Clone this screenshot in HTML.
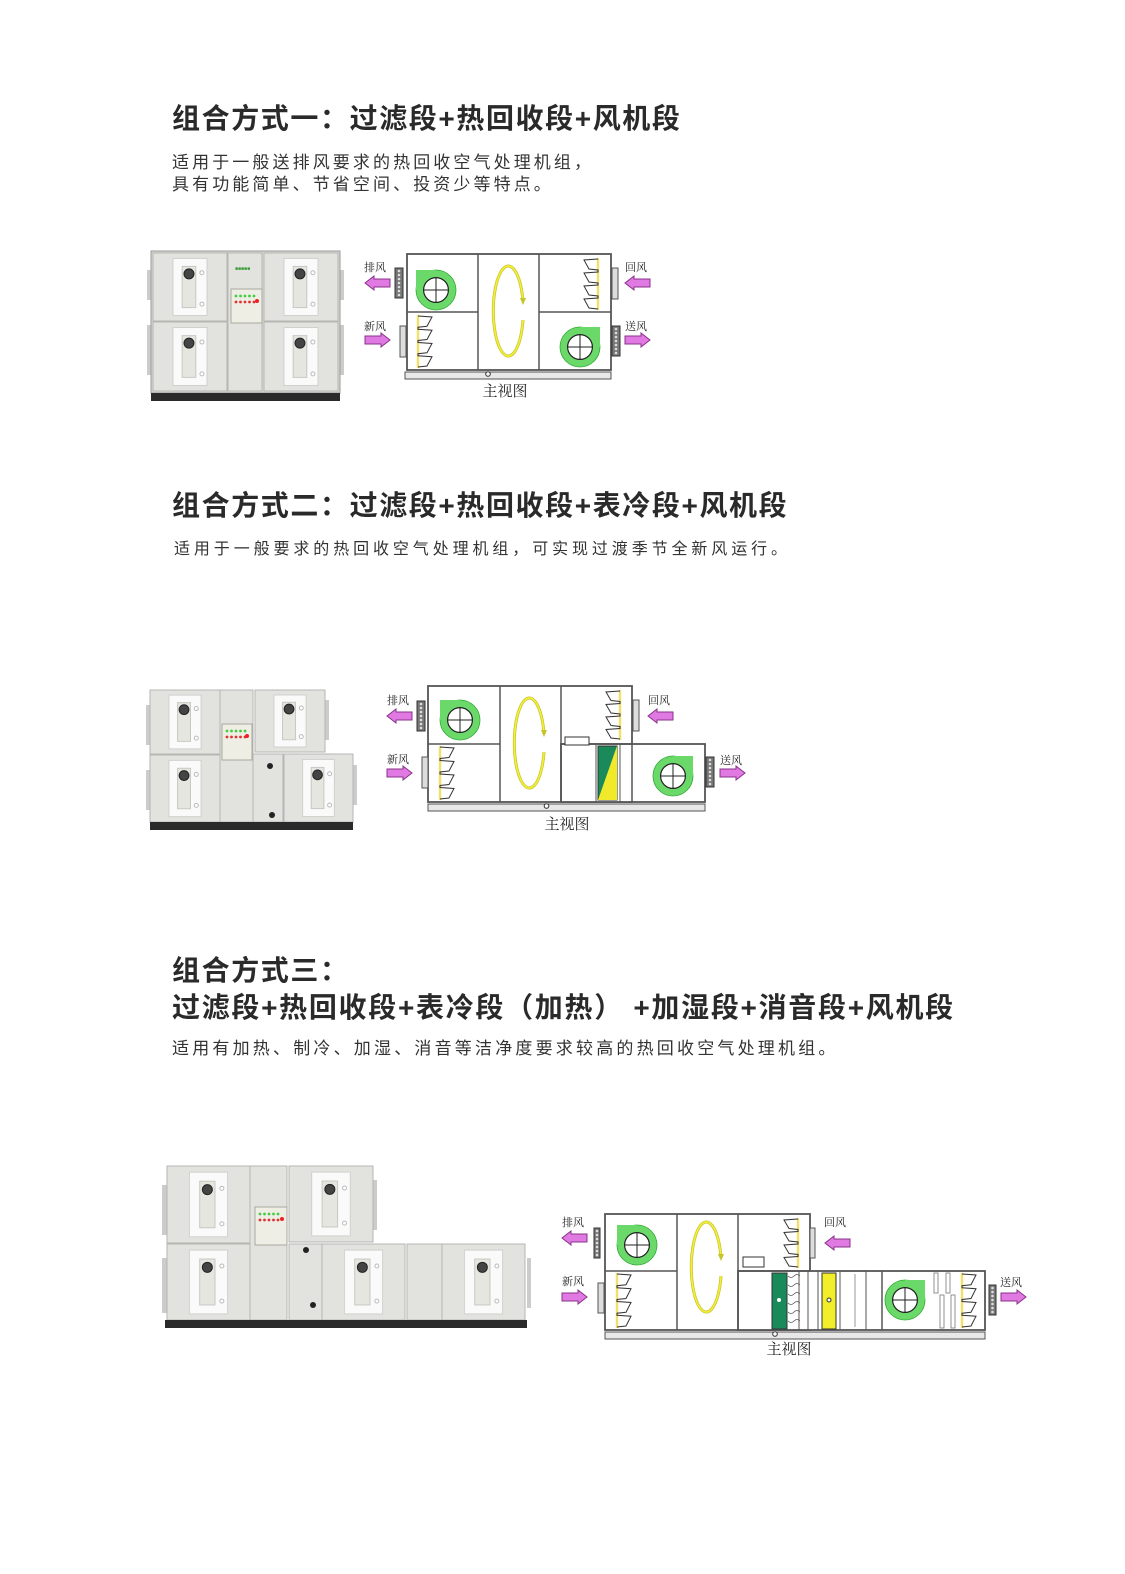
<!DOCTYPE html>
<html><head><meta charset="utf-8">
<style>
html,body{margin:0;padding:0;background:#fff;}
body{width:1125px;height:1574px;position:relative;overflow:hidden;font-family:"Liberation Sans","Noto Sans CJK SC",sans-serif;color:#2e2e2e;}
.t{position:absolute;left:172px;font-size:28px;font-weight:bold;white-space:nowrap;line-height:36px;letter-spacing:1.6px;color:#2a2a2a}
.b{position:absolute;left:172px;font-size:17px;white-space:nowrap;line-height:22px;color:#333}
svg{position:absolute;left:0;top:0}
</style></head><body>
<div class="t" style="top:101px">组合方式一：过滤段+热回收段+风机段</div>
<div class="b" style="top:152px;letter-spacing:3.1px">适用于一般送排风要求的热回收空气处理机组，<br>具有功能简单、节省空间、投资少等特点。</div>
<div class="t" style="top:488px">组合方式二：过滤段+热回收段+表冷段+风机段</div>
<div class="b" style="top:539px;left:174px;font-size:16px;letter-spacing:3.9px">适用于一般要求的热回收空气处理机组，可实现过渡季节全新风运行。</div>
<div class="t" style="top:953px">组合方式三：</div>
<div class="t" style="top:990px;letter-spacing:1.7px">过滤段+热回收段+表冷段（加热） +加湿段+消音段+风机段</div>
<div class="b" style="top:1038px;letter-spacing:3.2px">适用有加热、制冷、加湿、消音等洁净度要求较高的热回收空气处理机组。</div>
<svg id="s" width="1125" height="1574" viewBox="0 0 1125 1574" xmlns="http://www.w3.org/2000/svg"></svg>
<script>
var o='';
function R(x,y,w,h,f,s,sw){o+='<rect x="'+x+'" y="'+y+'" width="'+w+'" height="'+h+'" fill="'+f+'" stroke="'+(s||'none')+'" stroke-width="'+(sw||1)+'"/>';}
function L(x1,y1,x2,y2,c,w){o+='<line x1="'+x1+'" y1="'+y1+'" x2="'+x2+'" y2="'+y2+'" stroke="'+(c||'#555')+'" stroke-width="'+(w||1.5)+'"/>';}
function C(x,y,r,f,s,sw){o+='<circle cx="'+x+'" cy="'+y+'" r="'+r+'" fill="'+f+'" stroke="'+(s||'none')+'" stroke-width="'+(sw||1)+'"/>';}
function T(x,y,t,sz,anc){o+='<text x="'+x+'" y="'+y+'" font-family="Liberation Serif,Noto Serif CJK SC,serif" font-size="'+(sz||11)+'" fill="#222" text-anchor="'+(anc||'start')+'">'+t+'</text>';}
function panel(x,y,w,h,door){R(x,y,w,h,'#e2e3df','#b5b6b2',1);if(door){var dw=w*0.46,dh=h*0.84,dx=x+(w-dw)/2,dy=y+(h-dh)/2;R(dx,dy,dw,dh,'#fafafa','#d0d0cc',1);R(dx+dw*0.27,dy+dh*0.14,dw*0.4,dh*0.72,'#e6e6e0','#c8c8c2',1);C(dx+dw*0.47,dy+dh*0.27,Math.min(5,w*0.07),'#444','#222',1);C(dx+dw*0.85,dy+dh*0.25,2,'#fff','#bbb');C(dx+dw*0.85,dy+dh*0.8,2,'#fff','#bbb');}}
function ctrl(x,y,w,h){R(x,y,w,h,'#efeee4','#a8a8a0',1);for(var i=0;i<5;i++){C(x+5+i*4.5,y+7,1.4,'#4c4');C(x+5+i*4.5,y+13,1.4,'#d33');}C(x+w-5,y+12,2,'#e22');}
function fan(cx,cy,R0,m){var f='#6ad96a';C(cx,cy,R0,f,'#3a3',0.8);if(m=='tl')R(cx-R0,cy-R0,R0,R0,f);else R(cx,cy-R0,R0,R0,f);C(cx,cy,R0*0.62,'#fff','#222',1.2);L(cx-R0*0.62,cy,cx+R0*0.62,cy,'#222',1);L(cx,cy-R0*0.62,cx,cy+R0*0.62,'#222',1);}
function filt(x,y1,y2,d){L(x,y1,x,y2,'#f0e070',2.5);var h=(y2-y1)/4,p='';for(var i=0;i<4;i++){var y=y1+i*h;p+=(x)+','+(y+1)+' '+(x+d*14)+','+(y+2)+' '+(x+d*9)+','+(y+h-2)+' '+x+','+(y+h-1)+' ';}o+='<polyline points="'+p+'" fill="none" stroke="#333" stroke-width="1"/>';}
function hatch(x,y,w,h){R(x,y,w,h,'#777','#333',1);for(var yy=y+3;yy<y+h;yy+=4){C(x+w/2,yy,1.3,'#ddd');}}
function gray(x,y,w,h){R(x,y,w,h,'#ddd','#555',1);}
function arr(x,y,d){var p=d>0?[[x,y-4],[x+16,y-4],[x+16,y-7],[x+25,y],[x+16,y+7],[x+16,y+4],[x,y+4]]:[[x+25,y-4],[x+9,y-4],[x+9,y-7],[x,y],[x+9,y+7],[x+9,y+4],[x+25,y+4]];o+='<polygon points="'+p.join(' ')+'" fill="#e07ae2" stroke="#8a308a" stroke-width="1"/>';}
function ell(cx,cy){o+='<path d="M'+(cx+14)+' '+(cy+8)+' A15 45 0 1 1 '+(cx+14)+' '+(cy-10)+'" fill="none" stroke="#c7c42a" stroke-width="3"/><path d="M'+(cx+14)+' '+(cy+8)+' A15 45 0 1 1 '+(cx+14)+' '+(cy-10)+'" fill="none" stroke="#f2ee3a" stroke-width="1.6"/>';o+='<polygon points="'+(cx+11)+','+(cy-14)+' '+(cx+17)+','+(cy-14)+' '+(cx+14)+','+(cy-7)+'" fill="#c7c42a"/>';}
function box(x,y,w,h){R(x,y,w,h,'#fff','#555',1.8);}
function base(x1,x2,y){R(x1,y,x2-x1,7,'#e8e8e8','#555',1);C((x1+x2)/2-20,y+2,2.3,'#fff','#333');}

R(147,270,4,30,'#ccc');R(147,325,4,50,'#ccc');R(340,270,4,30,'#ccc');R(340,325,4,50,'#ccc');
R(151,251,189,142,'#d8d9d5','#999',1);
panel(153,253,74,68,1);panel(153,322,74,69,1);panel(228,253,34,138,0);panel(264,253,74,68,1);panel(264,322,74,69,1);
o+='<text x="235" y="270" font-size="5" fill="#393">■■■■■</text>';
ctrl(231,289,31,34);R(151,393,189,8,'#2a2a2a');

box(407,254,204,116);L(478,254,478,370);L(539,254,539,370);L(407,312,478,312);L(539,312,611,312);
fan(436,290,20,'tl');fan(580,347,20,'tr');ell(509,312);filt(598,258,310,-1);filt(418,315,368,1);
hatch(395,268,8,30);gray(612,268,6,31);gray(400,326,6,31);hatch(612,326,8,30);
arr(365,283,-1);arr(365,340,1);arr(625,283,-1);arr(625,340,1);
T(364,271,'排风');T(364,330,'新风');T(625,271,'回风');T(625,330,'送风');
base(405,611,372);T(505,396,'主视图',15,'middle');

R(146,705,4,40,'#ccc');R(146,770,4,40,'#ccc');R(325,700,4,40,'#ccc');R(353,765,4,40,'#ccc');
panel(150,690,70,64,1);panel(150,755,70,67,1);panel(220,690,33,132,0);panel(255,690,70,62,1);
panel(253,754,30,68,0);panel(284,754,69,68,1);C(270,766,3,'#222');C(272,815,3,'#222');
ctrl(222,724,30,36);R(150,822,203,8,'#2a2a2a');

box(428,686,204,116);box(561,744,144,58);R(562,745,69,56,'#fff');
L(500,686,500,802);L(561,686,561,802);L(428,744,500,744);L(561,744,632,744,'#555',1.5);L(632,744,632,802);
o+='<polygon points="598,746 617,746 617,800 598,800" fill="#1a8a5a" stroke="#333"/><polygon points="617,746 617,800 598,800" fill="#f0ea2a"/>';
L(596,744,596,802,'#555',1);L(620,744,620,802,'#555',1);
R(565,737,24,8,'#fff','#333',1);
fan(460,720,20,'tl');fan(673,776,20,'tr');ell(530,744);filt(620,690,740,-1);filt(440,746,800,1);
hatch(417,701,8,30);gray(633,700,6,31);gray(422,757,6,31);hatch(706,757,8,30);
arr(387,716,-1);arr(387,773,1);arr(648,716,-1);arr(720,773,1);
T(387,704,'排风');T(387,763,'新风');T(648,704,'回风');T(720,764,'送风');
base(428,705,804);T(567,829,'主视图',15,'middle');

R(162,1185,5,50,'#ccc');R(162,1258,5,55,'#ccc');R(373,1180,4,50,'#ccc');R(527,1258,4,50,'#ccc');
panel(167,1166,83,77,1);panel(167,1244,83,76,1);panel(250,1166,37,154,0);panel(289,1166,84,76,1);
panel(289,1244,33,76,0);panel(322,1244,83,76,1);panel(407,1244,35,76,0);panel(442,1244,83,76,1);
C(306,1250,3,'#222');C(313,1305,3,'#222');ctrl(255,1207,32,38);R(165,1320,362,8,'#2a2a2a');

box(605,1214,205,116);box(738,1271,247,59);R(739,1272,70,57,'#fff');
L(677,1214,677,1330);L(738,1214,738,1330);L(605,1271,677,1271);L(738,1271,810,1271);
R(772,1273,15,56,'#1a8a5a','#333',1);C(779,1300,2,'#fff');
for(var i=0;i<6;i++){o+='<path d="M788 '+(1276+i*9)+' q3 3 6 0 q3 -3 6 0" fill="none" stroke="#555" stroke-width="0.8"/>';}
L(799,1271,799,1330,'#555',1);L(808,1271,808,1330,'#555',1);L(818,1271,818,1330,'#555',1);
R(822,1273,14,56,'#f2ee2a','#333',1);C(829,1300,2,'#fff','#333');
L(840,1271,840,1330,'#555',1);L(855,1274,855,1327,'#999',1);L(866,1271,866,1330,'#555',1);L(882,1271,882,1330,'#555',1.5);
R(934,1273,4,20,'#fff','#777',0.8);R(946,1273,4,20,'#fff','#777',0.8);R(940,1295,4,33,'#fff','#777',0.8);R(951,1295,4,33,'#fff','#777',0.8);
R(743,1257,21,10,'#fff','#333',1);
fan(637,1245,20,'tl');fan(905,1300,20,'tr');ell(707,1268);filt(798,1218,1268,-1);filt(617,1273,1328,1);filt(962,1273,1328,1);
hatch(594,1228,6,30);gray(810,1228,5,30);gray(598,1283,6,30);hatch(989,1285,7,30);
arr(562,1238,-1);arr(562,1297,1);arr(825,1243,-1);arr(1001,1297,1);
T(562,1226,'排风');T(562,1285,'新风');T(824,1226,'回风');T(1000,1286,'送风');
base(605,985,1332);T(789,1354,'主视图',15,'middle');
document.getElementById('s').innerHTML=o;
</script>
</body></html>
